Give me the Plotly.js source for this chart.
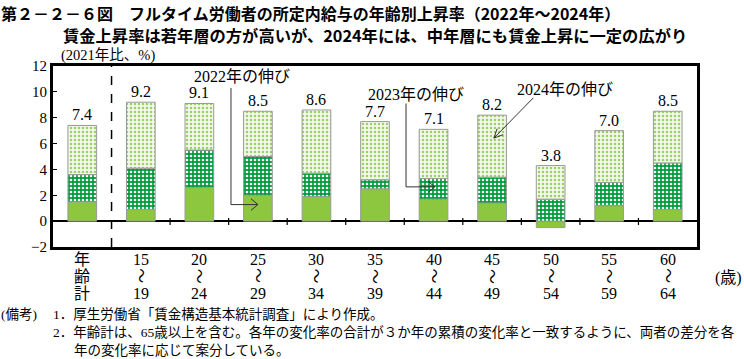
<!DOCTYPE html>
<html><head><meta charset="utf-8">
<script src="https://cdn.plot.ly/plotly-3.0.1.min.js"></script>
<style>html,body{margin:0;padding:0;background:#fff}#chart{width:744px;height:359px}</style>
</head><body><div id="chart"></div>
<script>
// ---- data ----
const labelTop    = ['年', '15', '20', '25', '30', '35', '40', '45', '50', '55', '60'];
const labelMid    = ['齢', '～', '～', '～', '～', '～', '～', '～', '～', '～', '～'];
const labelBottom = ['計', '19', '24', '29', '34', '39', '44', '49', '54', '59', '64'];
const growth2022 = [1.5, 0.9, 2.6, 2.0, 1.9, 2.5, 1.7, 1.4, -0.5, 1.2, 0.9];
const growth2023 = [2.1, 3.2, 2.9, 3.0, 1.8, 0.7, 1.6, 2.0, 1.7, 1.8, 3.6];
const growth2024 = [3.8, 5.1, 3.6, 3.5, 4.9, 4.5, 3.8, 4.8, 2.6, 4.0, 4.0];
const totals     = [7.4, 9.2, 9.1, 8.5, 8.6, 7.7, 7.1, 8.2, 3.8, 7.0, 8.5];
const seriesNames = ['2022年の伸び','2023年の伸び','2024年の伸び'];

// ---- layout constants ----
const W = 744, H = 359, ML = 53, MR = 47, MT = 66, MB = 112;
const PW = W - ML - MR, PH = H - MT - MB;
const XR = [-0.5, 10.5], YR = [-2, 12];
const xs = PW / (XR[1] - XR[0]), ys = PH / (YR[1] - YR[0]);
const px = p => (p - ML) / PW;            // pixel x -> paper
const py = p => (H - MB - p) / PH;        // pixel y -> paper

const SERIF = "'Liberation Serif', 'Noto Sans CJK JP', serif";
const SANS = "'Noto Sans CJK JP', 'Noto Sans', sans-serif";
const idx = labelTop.map((_, i) => i);

const lineCol = '#9a9a9a';
const traces = [
  {type:'bar', name:seriesNames[0], x:idx, y:growth2022,
   marker:{color:'#8dc63f', line:{color:lineCol, width:1}}},
  {type:'bar', name:seriesNames[1], x:idx, y:growth2023,
   marker:{color:'#009a3e', line:{color:lineCol, width:1},
     pattern:{shape:'.', bgcolor:'#009a3e', fgcolor:'#ffffff', size:4, solidity:0.35}}},
  {type:'bar', name:seriesNames[2], x:idx, y:growth2024,
   marker:{color:'#eef7e4', line:{color:lineCol, width:1},
     pattern:{shape:'.', bgcolor:'#f2f9ea', fgcolor:'#9ccf66', size:4, solidity:0.3}}}
];

// value labels on top of each stack
const annotations = idx.map(i => {
  const top = [growth2022[i], growth2023[i], growth2024[i]].filter(v => v > 0).reduce((a,b)=>a+b,0);
  return {x:i, y:top, xref:'x', yref:'y', text:totals[i].toFixed(1), showarrow:false,
          yanchor:'bottom', yshift:0, font:{family:SERIF, size:16, color:'#000'}};
});

function txt(t, x, y, opts) {
  return Object.assign({text:t, x:px(x), y:py(y), xref:'paper', yref:'paper', showarrow:false, borderpad:0,
    xanchor:'left', yanchor:'middle', font:{family:SERIF, size:14, color:'#000'}}, opts||{});
}
// category labels (three stacked lines)
idx.forEach(i => {
  annotations.push({text:labelTop[i], x:i, xref:'x', y:py(259), yref:'paper', showarrow:false, yanchor:'middle', font:{family:SERIF, size:16, color:'#000'}});
  const mid = labelMid[i];
  annotations.push({text:mid, x:i, xref:'x', y:py(276), yref:'paper', showarrow:false, yanchor:'middle',
    textangle: mid === '～' ? 90 : 0, font:{family:SERIF, size: mid === '～' ? 15 : 16, color:'#000'}});
  annotations.push({text:labelBottom[i], x:i, xref:'x', y:py(293), yref:'paper', showarrow:false, yanchor:'middle', font:{family:SERIF, size:16, color:'#000'}});
});
annotations.push(
  txt('第２－２－６図　フルタイム労働者の所定内給与の年齢別上昇率（2022年～2024年）', 0, 0, {yanchor:'top', font:{family:SANS, size:16, color:'#000', weight:'bold'}}),
  txt('賃金上昇率は若年層の方が高いが、2024年には、中年層にも賃金上昇に一定の広がり', 62, 22, {yanchor:'top', font:{family:SANS, size:16.3, color:'#000', weight:'bold'}}),
  txt('(2021年比、%)', 60, 56, {font:{family:SERIF, size:14.5, color:'#000'}}),
  txt('(歳)', 743, 278, {xanchor:'right', font:{family:SERIF, size:16, color:'#000'}}),
  txt('(備考)', 0, 314, {font:{family:SERIF, size:13.5, color:'#000'}}),
  txt('1．厚生労働省「賃金構造基本統計調査」により作成。', 52, 314, {font:{family:SERIF, size:13.5, color:'#000'}}),
  txt('2．年齢計は、65歳以上を含む。各年の変化率の合計が３か年の累積の変化率と一致するように、両者の差分を各', 52, 332, {font:{family:SERIF, size:13.5, color:'#000'}}),
  txt('年の変化率に応じて案分している。', 73, 350, {font:{family:SERIF, size:13.5, color:'#000'}}),
  // callout labels
  {text:seriesNames[0], x:2.72, y:11.15, xref:'x', yref:'y', showarrow:false, xanchor:'center', yanchor:'middle', font:{family:SERIF, size:16, color:'#000'}},
  {text:seriesNames[1], x:5.7, y:9.8, xref:'x', yref:'y', showarrow:false, xanchor:'center', yanchor:'middle', font:{family:SERIF, size:16, color:'#000'}},
  {text:seriesNames[2], x:8.25, y:10.2, xref:'x', yref:'y', showarrow:false, xanchor:'center', yanchor:'middle', font:{family:SERIF, size:16, color:'#000'}}
);

// ---- helper shapes ----
function chevron(xe, ye, xf, yf, len, ang) {
  let dx = (xe - xf) * xs, dy = -(ye - yf) * ys;
  const n = Math.hypot(dx, dy); dx /= n; dy /= n;
  const bx = -dx, by = -dy, a = ang * Math.PI / 180;
  const pts = [a, -a].map(t => {
    const rx = bx * Math.cos(t) - by * Math.sin(t);
    const ry = bx * Math.sin(t) + by * Math.cos(t);
    return [xe + rx * len / xs, ye - ry * len / ys];
  });
  return `M${pts[0][0]},${pts[0][1]} L${xe},${ye} L${pts[1][0]},${pts[1][1]}`;
}
const connCol = '#333';
const shapes = [
  {type:'line', xref:'x', yref:'y', x0:0.5, x1:0.5, y0:YR[0], y1:YR[1], line:{color:'#000', width:1.5, dash:'dash'}},
  // 2022 elbow
  {type:'path', xref:'x', yref:'y', path:'M2.54,10.3 L2.54,1.28 L3.0,1.28', line:{color:connCol, width:1}},
  {type:'path', xref:'x', yref:'y', path:chevron(3.0, 1.28, 2.54, 1.28, 9, 40), line:{color:connCol, width:1}},
  // 2023 elbow
  {type:'path', xref:'x', yref:'y', path:'M5.53,9.1 L5.53,2.65 L6.02,2.65', line:{color:connCol, width:1}},
  {type:'path', xref:'x', yref:'y', path:chevron(6.02, 2.65, 5.53, 2.65, 9, 40), line:{color:connCol, width:1}},
  // 2024 diagonal
  {type:'line', xref:'x', yref:'y', x0:7.705, y0:9.54, x1:7.03, y1:6.42, line:{color:connCol, width:1}},
  {type:'path', xref:'x', yref:'y', path:chevron(7.03, 6.42, 7.705, 9.54, 10, 25), line:{color:connCol, width:1}}
];
// boundary ticks on the zero line
for (let i = 1; i < idx.length - 1; i++) {
  shapes.push({type:'line', xref:'x', yref:'y', x0:i+0.5, x1:i+0.5, y0:-0.3, y1:0.25, line:{color:'#000', width:1.2}});
}

const layout = {
  width:W, height:H, margin:{l:ML, r:MR, t:MT, b:MB, pad:0},
  paper_bgcolor:'#fff', plot_bgcolor:'#fff',
  barmode:'relative', bargap:0.51, showlegend:false,
  xaxis:{type:'linear', range:XR, showticklabels:false, ticks:'', showgrid:false,
         zeroline:false, showline:true, mirror:true, linecolor:'#000', linewidth:3, fixedrange:true},
  yaxis:{range:YR, dtick:2, tick0:0, ticks:'inside', ticklen:4, tickwidth:1, tickcolor:'#000',
         showgrid:false, zeroline:true, zerolinecolor:'#000', zerolinewidth:1.5,
         showline:true, mirror:true, linecolor:'#000', linewidth:3,
         tickfont:{family:SERIF, size:15, color:'#000'}, fixedrange:true},
  annotations:annotations, shapes:shapes, hovermode:false
};
Plotly.newPlot('chart', traces, layout, {staticPlot:true, displayModeBar:false});
</script></body></html>
